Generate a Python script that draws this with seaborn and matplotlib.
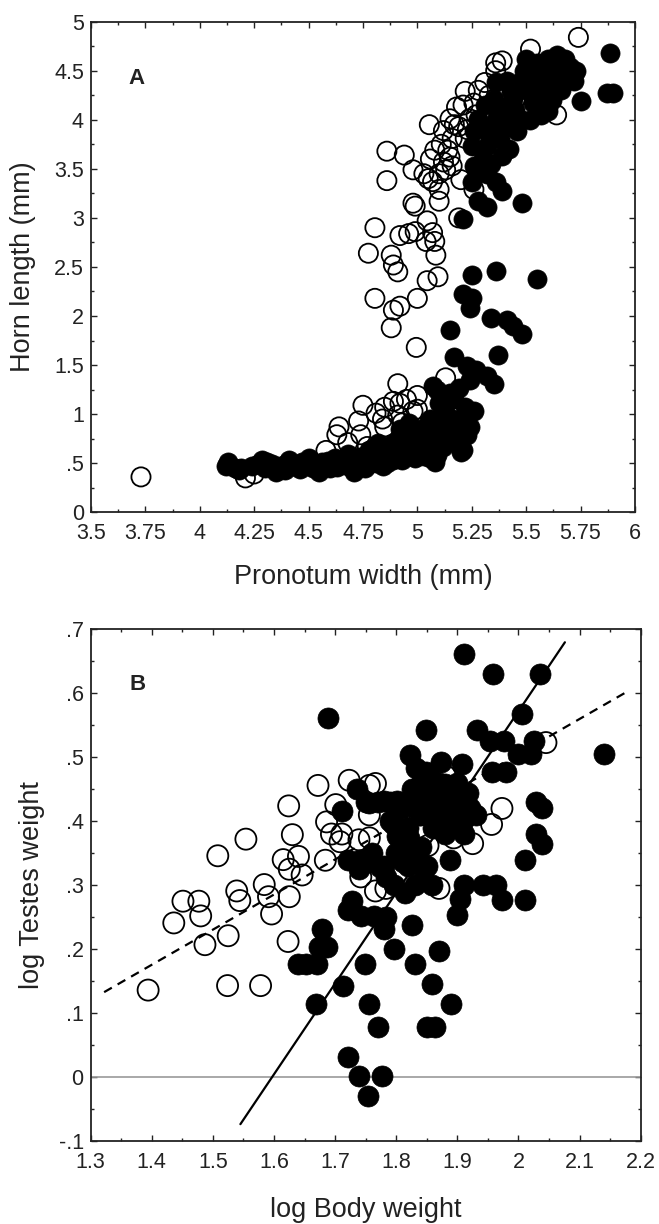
import numpy as np
import pandas as pd
import matplotlib
matplotlib.use("Agg")
import matplotlib.pyplot as plt
from matplotlib.ticker import MultipleLocator, FuncFormatter
import seaborn as sns

# ---- Panel A: horn length vs pronotum width ----
a_open_x = [3.73, 5.74, 5.52, 5.39, 5.36, 4.86, 4.94, 4.86, 5.055, 4.98, 5.03, 5.07, 5.10, 5.10,
            4.98, 4.99, 5.19, 4.805, 4.92, 4.96, 4.99, 5.045, 5.07, 5.08, 5.04, 5.085, 4.775, 4.88,
            4.89, 4.91, 5.045, 5.095, 4.805, 5.00, 4.89, 4.92, 4.88, 4.995, 4.91,
            5.12, 5.15, 5.18, 5.21, 5.22, 5.19, 5.16, 5.14, 5.12, 5.10, 5.20, 5.16, 5.08, 5.13,
            5.24, 5.26, 5.31, 5.36, 5.28, 5.39, 5.22, 5.26, 5.42, 5.45, 5.57, 5.60, 5.64, 5.55,
            5.17, 5.23, 5.11, 5.06, 5.27, 5.33, 5.05, 5.15,
            4.75, 4.81, 4.85, 4.89, 4.92, 4.95, 4.98, 5.00, 4.73, 4.64, 4.63, 4.58, 4.74, 4.84,
            4.77, 4.85, 4.68, 4.21, 4.25, 4.91, 4.93, 5.00, 5.00, 5.13, 5.18]
a_open_y = [0.36, 4.84, 4.72, 4.60, 4.58, 3.68, 3.64, 3.38, 3.95, 3.49, 3.45, 3.37, 3.29, 3.17,
            3.15, 3.12, 3.00, 2.90, 2.82, 2.84, 2.86, 2.97, 2.85, 2.76, 2.76, 2.62, 2.64, 2.62,
            2.52, 2.45, 2.36, 2.40, 2.18, 2.18, 2.06, 2.10, 1.88, 1.68, 1.31,
            3.89, 4.01, 4.13, 4.15, 4.29, 3.93, 3.81, 3.69, 3.57, 3.45, 3.39, 3.53, 3.69, 3.49,
            4.01, 4.17, 4.38, 4.50, 4.30, 4.30, 3.81, 3.29, 3.93, 4.21, 4.51, 4.13, 4.05, 4.25,
            3.95, 3.90, 3.75, 3.60, 4.05, 4.25, 3.40, 3.62,
            1.09, 1.01, 1.07, 1.13, 1.11, 1.15, 1.03, 1.05, 0.93, 0.87, 0.79, 0.63, 0.79, 0.95,
            0.67, 0.87, 0.71, 0.35, 0.39, 0.99, 0.91, 1.19, 0.83, 1.37, 1.03]

a_filled_x = [5.885, 5.87, 5.90, 5.75, 5.69, 5.64, 5.60, 5.68, 5.70, 5.55,
              5.49, 5.47, 5.54, 5.58, 5.62, 5.66, 5.53, 5.57, 5.44, 5.41, 5.44, 5.46, 5.35, 5.37,
              5.39, 5.33, 5.28, 5.26, 5.32, 5.39, 5.26, 5.32, 5.36, 5.39, 5.28, 5.32, 5.48, 5.21,
              5.25, 5.25, 5.36, 5.47, 5.60, 5.54, 5.43,
              5.30, 5.34, 5.38, 5.42, 5.45, 5.50, 5.52, 5.56, 5.62, 5.66, 5.72, 5.29, 5.31, 5.36,
              5.41, 5.50, 5.58, 5.73, 5.63,
              5.25, 5.36, 5.55, 5.21, 5.25, 5.24, 5.34, 5.41, 5.44, 5.48, 5.15,
              5.37, 5.17, 5.23, 5.27, 5.24, 5.32, 5.35, 5.07, 5.19, 5.10, 5.26, 5.22, 5.16, 5.24,
              5.06, 5.08, 5.16, 5.21, 5.23, 5.04, 5.12, 5.06, 5.08, 5.20,
              4.13, 4.16, 4.19, 4.285, 4.35, 4.33, 4.41, 4.45, 4.50, 4.55, 4.60, 4.68, 4.71, 4.78,
              4.84, 4.91, 4.93, 4.96, 4.98, 5.01, 4.78, 4.82, 4.89, 4.68, 4.62, 4.56, 4.43, 4.39,
              4.24, 4.31, 4.47, 4.53, 4.64, 4.74, 4.76, 4.82, 4.87, 4.93, 4.99, 5.03, 5.03, 4.95,
              4.92, 4.85, 4.89,
              4.12, 4.18, 4.27, 4.30, 4.37, 4.40, 4.46, 4.49, 4.52, 4.57, 4.59, 4.63, 4.66, 4.70,
              4.73, 4.77, 4.79, 4.81, 4.83, 4.86, 4.88, 4.90, 4.92, 4.94, 4.96, 4.97, 4.99, 5.00,
              5.02, 5.04, 5.05, 5.07, 5.09, 5.10, 5.12, 5.14, 5.13, 5.17, 5.19, 5.20, 5.15, 5.09]
a_filled_y = [4.68, 4.27, 4.27, 4.19, 4.46, 4.66, 4.62, 4.62, 4.54, 4.58,
              4.50, 4.38, 4.42, 4.34, 4.42, 4.30, 4.17, 4.05, 4.21, 4.13, 4.01, 3.89, 4.21, 4.05,
              3.93, 3.85, 4.01, 3.89, 3.73, 3.63, 3.53, 3.45, 3.37, 3.27, 3.17, 3.11, 3.15, 2.99,
              3.37, 3.73, 4.38, 4.01, 4.09, 4.25, 4.29,
              3.60, 3.55, 3.80, 3.70, 4.10, 4.30, 4.00, 4.40, 4.20, 4.55, 4.40, 3.95, 4.15, 4.00,
              4.40, 4.62, 4.50, 4.50, 4.35,
              2.42, 2.46, 2.38, 2.22, 2.18, 2.08, 1.98, 1.96, 1.90, 1.82, 1.86,
              1.60, 1.58, 1.49, 1.45, 1.35, 1.39, 1.31, 1.29, 1.27, 1.11, 1.03, 1.07, 0.95, 0.87,
              0.95, 0.81, 0.83, 0.63, 0.79, 0.71, 0.67, 0.55, 0.51, 0.61,
              0.51, 0.45, 0.45, 0.53, 0.41, 0.49, 0.53, 0.47, 0.55, 0.41, 0.45, 0.47, 0.41, 0.51,
              0.47, 0.59, 0.79, 0.91, 0.63, 0.67, 0.63, 0.71, 0.71, 0.59, 0.55, 0.51, 0.47, 0.43,
              0.47, 0.51, 0.51, 0.47, 0.51, 0.53, 0.45, 0.55, 0.55, 0.53, 0.55, 0.57, 0.75, 0.67,
              0.85, 0.61, 0.53,
              0.47, 0.43, 0.49, 0.45, 0.47, 0.50, 0.44, 0.50, 0.45, 0.47, 0.52, 0.46, 0.52, 0.49,
              0.56, 0.48, 0.56, 0.50, 0.62, 0.50, 0.60, 0.66, 0.55, 0.72, 0.60, 0.78, 0.70, 0.60,
              0.85, 0.62, 0.90, 0.78, 0.58, 0.72, 0.88, 0.75, 1.00, 1.15, 0.70, 0.90, 1.22, 1.25]

# ---- Panel B: log testes weight vs log body weight ----
b_open_x = [1.394, 1.524, 1.578, 1.487, 1.525, 1.623, 1.436, 1.480, 1.451, 1.477, 1.539, 1.544,
            1.584, 1.591, 1.596, 1.625, 1.508, 1.554, 1.615, 1.625, 1.640, 1.646, 1.630, 1.624,
            1.672, 1.684, 1.686, 1.694, 1.701, 1.711, 1.708, 1.723, 1.739, 1.756, 1.766, 1.756,
            1.742, 1.766, 1.756, 1.783, 1.870, 1.925, 1.956, 1.973, 2.045, 1.811, 1.839, 1.852,
            1.894, 1.880]
b_open_y = [0.136, 0.143, 0.143, 0.207, 0.221, 0.212, 0.241, 0.252, 0.275, 0.275, 0.291, 0.276,
            0.301, 0.282, 0.255, 0.282, 0.346, 0.372, 0.340, 0.325, 0.345, 0.316, 0.379, 0.424,
            0.456, 0.339, 0.399, 0.380, 0.426, 0.380, 0.368, 0.464, 0.371, 0.374, 0.459, 0.456,
            0.313, 0.291, 0.410, 0.295, 0.295, 0.365, 0.395, 0.420, 0.523, 0.398, 0.410, 0.362,
            0.374, 0.471]

b_filled_x = [1.911, 1.958, 2.036, 2.006, 1.688, 1.848, 1.932, 2.140, 1.823, 2.025, 1.953, 1.977,
              2.000, 2.021, 1.956, 1.980, 1.907, 1.873, 1.849, 2.028, 2.039, 2.028, 2.039, 2.010,
              2.010, 1.973, 1.963, 1.942, 1.911, 1.904, 1.900, 1.888, 1.925, 1.911, 1.897, 1.880,
              1.866, 1.852, 1.839, 1.825, 1.821, 1.832, 1.845, 1.859, 1.814, 1.797, 1.783, 1.801,
              1.794, 1.780, 1.756, 1.801, 1.735, 1.711, 1.721, 1.739, 1.756, 1.773, 1.814, 1.811,
              1.880, 1.859, 1.894, 1.807, 1.839, 1.870, 1.918, 1.832,
              1.79, 1.81, 1.83, 1.85, 1.86, 1.87, 1.88, 1.89, 1.90, 1.91, 1.82, 1.84, 1.86, 1.88,
              1.80, 1.82, 1.78, 1.76, 1.74, 1.85, 1.83, 1.87, 1.85, 1.90, 1.92, 1.93, 1.77, 1.75,
              1.79,
              1.728, 1.721, 1.742, 1.763, 1.783, 1.780, 1.825, 1.797, 1.870, 1.679, 1.673, 1.687,
              1.639, 1.653, 1.670, 1.749, 1.830, 1.713, 1.859, 1.756, 1.889, 1.668, 1.770, 1.851,
              1.863, 1.721, 1.739, 1.777, 1.754]
b_filled_y = [0.662, 0.631, 0.631, 0.568, 0.561, 0.543, 0.543, 0.505, 0.503, 0.526, 0.526, 0.526,
              0.505, 0.505, 0.477, 0.477, 0.490, 0.493, 0.477, 0.430, 0.420, 0.380, 0.365, 0.340,
              0.277, 0.277, 0.301, 0.301, 0.301, 0.279, 0.253, 0.340, 0.413, 0.380, 0.441, 0.423,
              0.447, 0.429, 0.410, 0.450, 0.374, 0.337, 0.325, 0.301, 0.288, 0.301, 0.313, 0.377,
              0.395, 0.432, 0.429, 0.432, 0.450, 0.416, 0.340, 0.325, 0.337, 0.328, 0.362, 0.337,
              0.459, 0.465, 0.404, 0.386, 0.456, 0.410, 0.444, 0.484,
              0.40, 0.42, 0.43, 0.44, 0.42, 0.43, 0.41, 0.44, 0.42, 0.40, 0.39, 0.36, 0.39, 0.38,
              0.35, 0.33, 0.33, 0.35, 0.34, 0.33, 0.30, 0.46, 0.47, 0.46, 0.42, 0.41, 0.43, 0.43,
              0.43,
              0.276, 0.261, 0.252, 0.252, 0.251, 0.232, 0.237, 0.200, 0.197, 0.232, 0.203, 0.203,
              0.176, 0.176, 0.176, 0.176, 0.176, 0.143, 0.145, 0.115, 0.115, 0.115, 0.079, 0.079,
              0.079, 0.032, 0.002, 0.002, -0.030]

# fitted lines: intercept, slope and x extent
fit_filled = (-2.266, 1.419)
fit_filled_x = [1.545, 2.076]
fit_open = (-0.593, 0.549)
fit_open_x = [1.322, 2.176]


def strip_zero(v, pos):
    s = f"{v:.2f}".rstrip("0").rstrip(".")
    if s.startswith("0."):
        s = s[1:]
    elif s.startswith("-0."):
        s = "-" + s[2:]
    if s == "-0":
        s = "0"
    return s


def style_axes(ax, xmaj, xmin_, ymaj, ymin_):
    ax.xaxis.set_major_locator(MultipleLocator(xmaj))
    ax.xaxis.set_minor_locator(MultipleLocator(xmin_))
    ax.yaxis.set_major_locator(MultipleLocator(ymaj))
    ax.yaxis.set_minor_locator(MultipleLocator(ymin_))
    ax.xaxis.set_major_formatter(FuncFormatter(strip_zero))
    ax.yaxis.set_major_formatter(FuncFormatter(strip_zero))
    ax.tick_params(which="both", direction="in", top=True, right=True,
                   width=1.0, colors="#222222", labelsize=15.5, labelcolor="#222222")
    ax.tick_params(which="major", length=4)
    ax.tick_params(which="minor", length=2.5)
    ax.tick_params(axis="x", which="major", pad=8)
    ax.tick_params(axis="y", which="major", pad=5)
    for sp in ax.spines.values():
        sp.set_visible(True)
        sp.set_linewidth(1.3)
        sp.set_color("#222222")


sns.set_theme(style="ticks")
plt.rcParams["font.family"] = ["Liberation Sans", "DejaVu Sans"]

fig = plt.figure(figsize=(6.59, 12.24), dpi=100)
ax_a = fig.add_axes([0.138, 0.5815, 0.8255, 0.4008])
ax_b = fig.add_axes([0.1376, 0.0678, 0.8346, 0.418])

# --- Panel A ---
df_a_open = pd.DataFrame({"x": a_open_x, "y": a_open_y})
df_a_filled = pd.DataFrame({"x": a_filled_x, "y": a_filled_y})
sns.scatterplot(data=df_a_open, x="x", y="y", ax=ax_a, s=190, marker="o",
                facecolor="none", edgecolor="black", linewidth=1.3, zorder=2)
sns.scatterplot(data=df_a_filled, x="x", y="y", ax=ax_a, s=190, marker="o",
                color="black", edgecolor="black", linewidth=0.5, zorder=3)
ax_a.set_xlim(3.5, 6)
ax_a.set_ylim(0, 5)
style_axes(ax_a, 0.25, 0.125, 0.5, 0.25)
ax_a.set_xlabel("Pronotum width (mm)", fontsize=19.5, color="#222222")
ax_a.set_ylabel("Horn length (mm)", fontsize=19.5, color="#222222")
ax_a.xaxis.set_label_coords(0.5, -0.132)
ax_a.xaxis.label.set_va("center")
ax_a.yaxis.set_label_coords(-0.125, 0.5)
ax_a.yaxis.label.set_va("center")
ax_a.text(0.084, 0.885, "A", transform=ax_a.transAxes, fontsize=16,
          fontweight="bold", ha="center", va="center", color="#222222")

# --- Panel B ---
df_b_open = pd.DataFrame({"x": b_open_x, "y": b_open_y})
df_b_filled = pd.DataFrame({"x": b_filled_x, "y": b_filled_y})
ax_b.axhline(0, color="#9a9a9a", linewidth=1.2, zorder=1)
xs = np.array(fit_filled_x)
ax_b.plot(xs, fit_filled[0] + fit_filled[1] * xs, color="black", linewidth=1.6, zorder=1)
xo = np.array(fit_open_x)
ax_b.plot(xo, fit_open[0] + fit_open[1] * xo, color="black", linewidth=1.6,
          linestyle=(0, (4, 3)), zorder=1)
sns.scatterplot(data=df_b_open, x="x", y="y", ax=ax_b, s=230, marker="o",
                facecolor="none", edgecolor="black", linewidth=1.3, zorder=2)
sns.scatterplot(data=df_b_filled, x="x", y="y", ax=ax_b, s=230, marker="o",
                color="black", edgecolor="black", linewidth=0.5, zorder=3)
ax_b.set_xlim(1.3, 2.2)
ax_b.set_ylim(-0.1, 0.7)
style_axes(ax_b, 0.1, 0.05, 0.1, 0.05)
ax_b.set_xlabel("log Body weight", fontsize=19.5, color="#222222")
ax_b.set_ylabel("log Testes weight", fontsize=19.5, color="#222222")
ax_b.xaxis.set_label_coords(0.5, -0.135)
ax_b.xaxis.label.set_va("center")
ax_b.yaxis.set_label_coords(-0.107, 0.5)
ax_b.yaxis.label.set_va("center")
ax_b.text(0.086, 0.893, "B", transform=ax_b.transAxes, fontsize=16,
          fontweight="bold", ha="center", va="center", color="#222222")

fig.savefig("out.png", dpi=100)
plt.close(fig)
